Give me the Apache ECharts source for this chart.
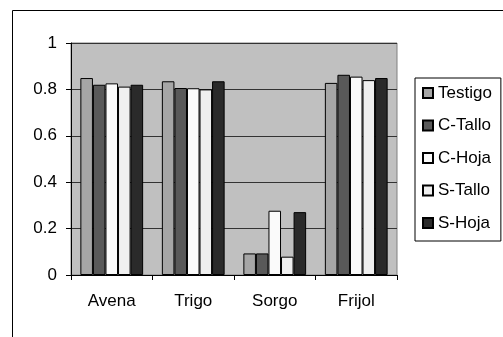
<!DOCTYPE html>
<html>
<head>
<meta charset="utf-8">
<script src="https://cdn.jsdelivr.net/npm/echarts@6/dist/echarts.min.js"></script>
<style>
    html, body { margin: 0; padding: 0; background: #fff; }
    #grafico { width: 503px; height: 337px; }
</style>
</head>
<body>
<div id="grafico"></div>
<script>
// Datos
const cultivos = ['Avena', 'Trigo', 'Sorgo', 'Frijol'];
const testigo = [0.849, 0.835, 0.093, 0.828];
const cTallo = [0.820, 0.806, 0.093, 0.863];
const cHoja = [0.826, 0.805, 0.277, 0.855];
const sTallo = [0.812, 0.800, 0.079, 0.840];
const sHoja = [0.820, 0.835, 0.271, 0.849];
const nombresSeries = ['Testigo', 'C-Tallo', 'C-Hoja', 'S-Tallo', 'S-Hoja'];
const coloresSeries = ['#a6a6a6', '#595959', '#fafafa', '#efefef', '#2a2a2a'];

const valores = [testigo, cTallo, cHoja, sTallo, sHoja];

const fuente = 'Liberation Sans, Arial, sans-serif';
const tamTexto = 17;

const series = valores.map((datos, i) => ({
    name: nombresSeries[i],
    type: 'bar',
    data: datos,
    barGap: '0%',
    barCategoryGap: '23%',
    itemStyle: {
        color: coloresSeries[i],
        borderColor: '#000',
        borderWidth: 1
    }
}));

const myChart = echarts.init(document.getElementById('grafico'), null, { renderer: 'canvas' });

const option = {
    animation: false,
    textStyle: { fontFamily: fuente },
    // Marco exterior del grafico
    graphic: [{
        type: 'rect',
        shape: { x: 12.5, y: 10.5, width: 600, height: 400 },
        style: { fill: 'none', stroke: '#000', lineWidth: 1 },
        silent: true
    }],
    grid: {
        left: 71,
        top: 43,
        width: 326,
        height: 232,
        show: true,
        backgroundColor: '#c0c0c0',
        borderColor: '#808080',
        borderWidth: 1
    },
    legend: {
        orient: 'vertical',
        left: 415,
        top: 78,
        icon: 'rect',
        itemWidth: 10,
        itemHeight: 10,
        itemGap: 15.5,
        padding: [6.5, 9, 9.5, 7],
        borderColor: '#000',
        borderWidth: 1,
        textStyle: { fontSize: tamTexto, color: '#000', fontFamily: fuente, lineHeight: 17 },
        data: nombresSeries
    },
    xAxis: {
        type: 'category',
        data: cultivos,
        axisLine: { lineStyle: { color: '#000' } },
        axisTick: { show: true, length: 5, lineStyle: { color: '#000' } },
        axisLabel: { fontSize: tamTexto, color: '#000', margin: 18, fontFamily: fuente }
    },
    yAxis: {
        type: 'value',
        min: 0,
        max: 1,
        interval: 0.2,
        axisLine: { show: true, lineStyle: { color: '#000' } },
        axisTick: { show: true, length: 5, lineStyle: { color: '#000' } },
        axisLabel: { fontSize: tamTexto, color: '#000', margin: 14, fontFamily: fuente },
        splitLine: { show: true, lineStyle: { color: '#333' } }
    },
    series: series
};

myChart.setOption(option);
</script>
</body>
</html>
